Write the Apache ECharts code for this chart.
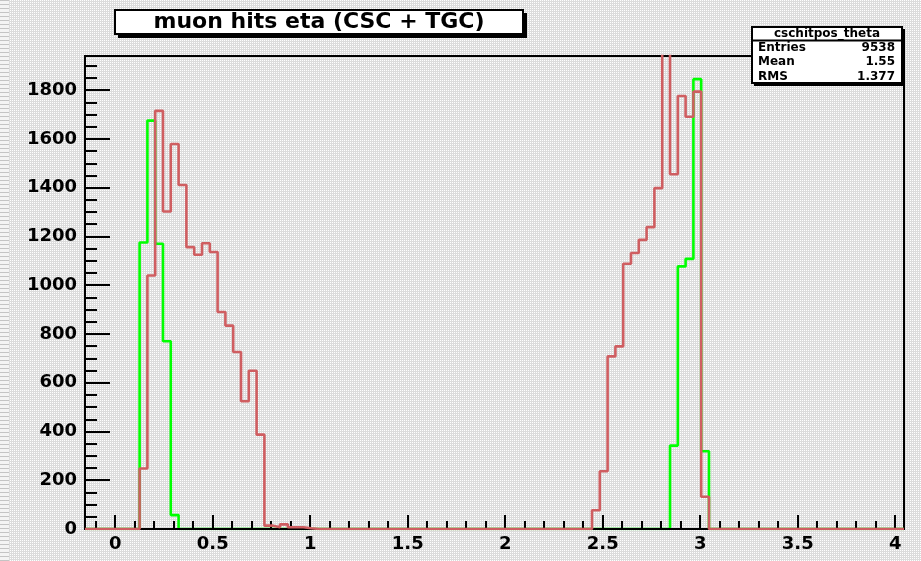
<!DOCTYPE html>
<html>
<head>
<meta charset="utf-8">
<script src="https://cdn.jsdelivr.net/npm/echarts@6/dist/echarts.min.js"></script>
<style>
  html, body { margin: 0; padding: 0; background: #fff; }
  #chart { width: 921px; height: 561px; }
</style>
</head>
<body>
<div id="chart"></div>
<script>
// Histogram binning: 105 bins of width 0.04 starting at eta = -0.155
const binLow = -0.155;
const binWidth = 0.04;
const nBins = 105;

// CSC hits (green), two populated regions given by first bin index
const greenLowStart = 7;
const greenLowEta = [1175, 1675, 1170, 770, 57];
const greenHighStart = 75;
const greenHighEta = [342, 1077, 1108, 1845, 319];

// TGC hits (red)
const redLowStart = 7;
const redLowEta = [248, 1040, 1715, 1302, 1579, 1411, 1156, 1125, 1172, 1136, 890, 834, 726, 524, 649, 387, 14, 7, 19, 7, 7, 3];
const redHighStart = 65;
const redHighEta = [77, 237, 708, 749, 1088, 1132, 1186, 1238, 1398, 2000, 1455, 1776, 1691, 1794, 132];

// Axis tick labels
const xLabels = [0, 0.5, 1, 1.5, 2, 2.5, 3, 3.5, 4];
const xMinorTicks = [-0.1, 0.1, 0.2, 0.3, 0.4, 0.6, 0.7, 0.8, 0.9, 1.1, 1.2, 1.3, 1.4, 1.6, 1.7, 1.8, 1.9,
  2.1, 2.2, 2.3, 2.4, 2.6, 2.7, 2.8, 2.9, 3.1, 3.2, 3.3, 3.4, 3.6, 3.7, 3.8, 3.9];
const yLabels = [0, 200, 400, 600, 800, 1000, 1200, 1400, 1600, 1800];
const yMinorTicks = [50, 100, 150, 250, 300, 350, 450, 500, 550, 650, 700, 750, 850, 900, 950,
  1050, 1100, 1150, 1250, 1300, 1350, 1450, 1500, 1550, 1650, 1700, 1750, 1850, 1900];
const yMax = 1940;

// Statistics box text
const statsName = 'cschitpos_theta';
const statsRows = [['Entries', '9538'], ['Mean', '1.55'], ['RMS', '1.377']];
const titleText = 'muon hits eta (CSC + TGC)';

function fillBins(segments) {
  const v = new Array(nBins).fill(0);
  segments.forEach(([start, vals]) => vals.forEach((c, i) => { v[start + i] = c; }));
  return v;
}
// Outline points at left bin edges, plus the closing right edge
function outline(v) {
  const pts = v.map((c, k) => [+(binLow + k * binWidth).toFixed(4), c]);
  pts.push([+(binLow + nBins * binWidth).toFixed(4), v[nBins - 1]]);
  return pts;
}

const green = fillBins([[greenLowStart, greenLowEta], [greenHighStart, greenHighEta]]);
const red = fillBins([[redLowStart, redLowEta], [redHighStart, redHighEta]]);
const xMax = +(binLow + nBins * binWidth).toFixed(4);

// Fine dithered grey canvas texture
function makePattern(w, h, painter) {
  const c = document.createElement('canvas');
  c.width = w; c.height = h;
  const ctx = c.getContext('2d');
  painter(ctx);
  return c;
}
const dither = makePattern(2, 2, ctx => {
  ctx.fillStyle = '#dcdcdc'; ctx.fillRect(0, 0, 2, 2);
  ctx.fillStyle = '#ffffff'; ctx.fillRect(0, 0, 1, 1);
});
const stripes = makePattern(2, 4, ctx => {
  ctx.fillStyle = '#f4f4f4'; ctx.fillRect(0, 0, 2, 4);
  ctx.fillStyle = '#c4c4c4'; ctx.fillRect(0, 0, 2, 1);
});

const FONT = 'DejaVu Sans';
const labelStyle = { color: '#000', fontFamily: FONT, fontWeight: 'bold', fontSize: 18 };
const plain = v => String(v);

const chart = echarts.init(document.getElementById('chart'), null, { renderer: 'canvas' });
chart.setOption({
  animation: false,
  backgroundColor: { image: dither, repeat: 'repeat' },
  grid: {
    left: 85, right: 17, top: 56, bottom: 32,
    show: true, borderColor: '#000', borderWidth: 2, backgroundColor: 'transparent'
  },
  xAxis: [
    {
      type: 'value', min: binLow, max: xMax, position: 'bottom', z: 3,
      axisLine: { show: true, onZero: false, lineStyle: { color: '#000', width: 2 } },
      axisTick: { show: true, inside: true, length: 14, customValues: xLabels, lineStyle: { color: '#000', width: 2 } },
      axisLabel: { show: true, customValues: xLabels, margin: 6, formatter: plain, ...labelStyle },
      splitLine: { show: false }
    },
    {
      type: 'value', min: binLow, max: xMax, position: 'bottom', z: 3,
      axisLine: { show: false, onZero: false },
      axisTick: { show: true, inside: true, length: 8, customValues: xMinorTicks, lineStyle: { color: '#000', width: 2 } },
      axisLabel: { show: false },
      splitLine: { show: false }
    }
  ],
  yAxis: [
    {
      type: 'value', min: 0, max: yMax, position: 'left', z: 3,
      axisLine: { show: true, onZero: false, lineStyle: { color: '#000', width: 2 } },
      axisTick: { show: true, inside: true, length: 25, customValues: yLabels, lineStyle: { color: '#000', width: 2 } },
      axisLabel: { show: true, customValues: yLabels, margin: 8, formatter: plain, ...labelStyle },
      splitLine: { show: false }
    },
    {
      type: 'value', min: 0, max: yMax, position: 'left', z: 3,
      axisLine: { show: false, onZero: false },
      axisTick: { show: true, inside: true, length: 12, customValues: yMinorTicks, lineStyle: { color: '#000', width: 2 } },
      axisLabel: { show: false },
      splitLine: { show: false }
    }
  ],
  series: [
    {
      name: 'CSC', type: 'line', step: 'end', symbol: 'none', clip: true, z: 1,
      xAxisIndex: 0, yAxisIndex: 0,
      lineStyle: { color: '#00ff00', width: 2.6 },
      data: outline(green)
    },
    {
      name: 'TGC', type: 'line', step: 'end', symbol: 'none', clip: true, z: 4,
      xAxisIndex: 0, yAxisIndex: 0,
      lineStyle: { color: '#cf5e61', width: 2.6 },
      data: outline(red)
    }
  ],
  graphic: [
    { type: 'rect', left: 0, top: 0, z: 0, shape: { width: 9, height: 561 }, style: { fill: { image: stripes, repeat: 'repeat' } } },
    // title box with drop shadow
    { type: 'rect', z: 20, shape: { x: 118, y: 13, width: 409, height: 25 }, style: { fill: '#000' } },
    { type: 'rect', z: 21, shape: { x: 115, y: 10, width: 408, height: 24 }, style: { fill: '#fff', stroke: '#000', lineWidth: 2 } },
    { type: 'text', z: 22, x: 319, y: 22.5, style: { text: titleText, fill: '#000', font: 'bold 22px "' + FONT + '"', align: 'center', verticalAlign: 'middle' } },
    // statistics box
    { type: 'rect', z: 20, shape: { x: 754, y: 29, width: 151, height: 57 }, style: { fill: '#000' } },
    { type: 'rect', z: 21, shape: { x: 752, y: 27, width: 150, height: 56 }, style: { fill: '#fff', stroke: '#000', lineWidth: 2 } },
    { type: 'line', z: 22, shape: { x1: 752, y1: 40.5, x2: 902, y2: 40.5 }, style: { stroke: '#000', lineWidth: 2 } },
    { type: 'text', z: 23, x: 827, y: 33.5, style: { text: statsName, fill: '#000', font: 'bold 12px "' + FONT + '"', align: 'center', verticalAlign: 'middle' } },
    ...statsRows.flatMap((r, i) => [
      { type: 'text', z: 22, x: 758, y: 48 + i * 14.2, style: { text: r[0], fill: '#000', font: 'bold 12px "' + FONT + '"', align: 'left', verticalAlign: 'middle' } },
      { type: 'text', z: 22, x: 895, y: 48 + i * 14.2, style: { text: r[1], fill: '#000', font: 'bold 12px "' + FONT + '"', align: 'right', verticalAlign: 'middle' } }
    ])
  ]
});
</script>
</body>
</html>
